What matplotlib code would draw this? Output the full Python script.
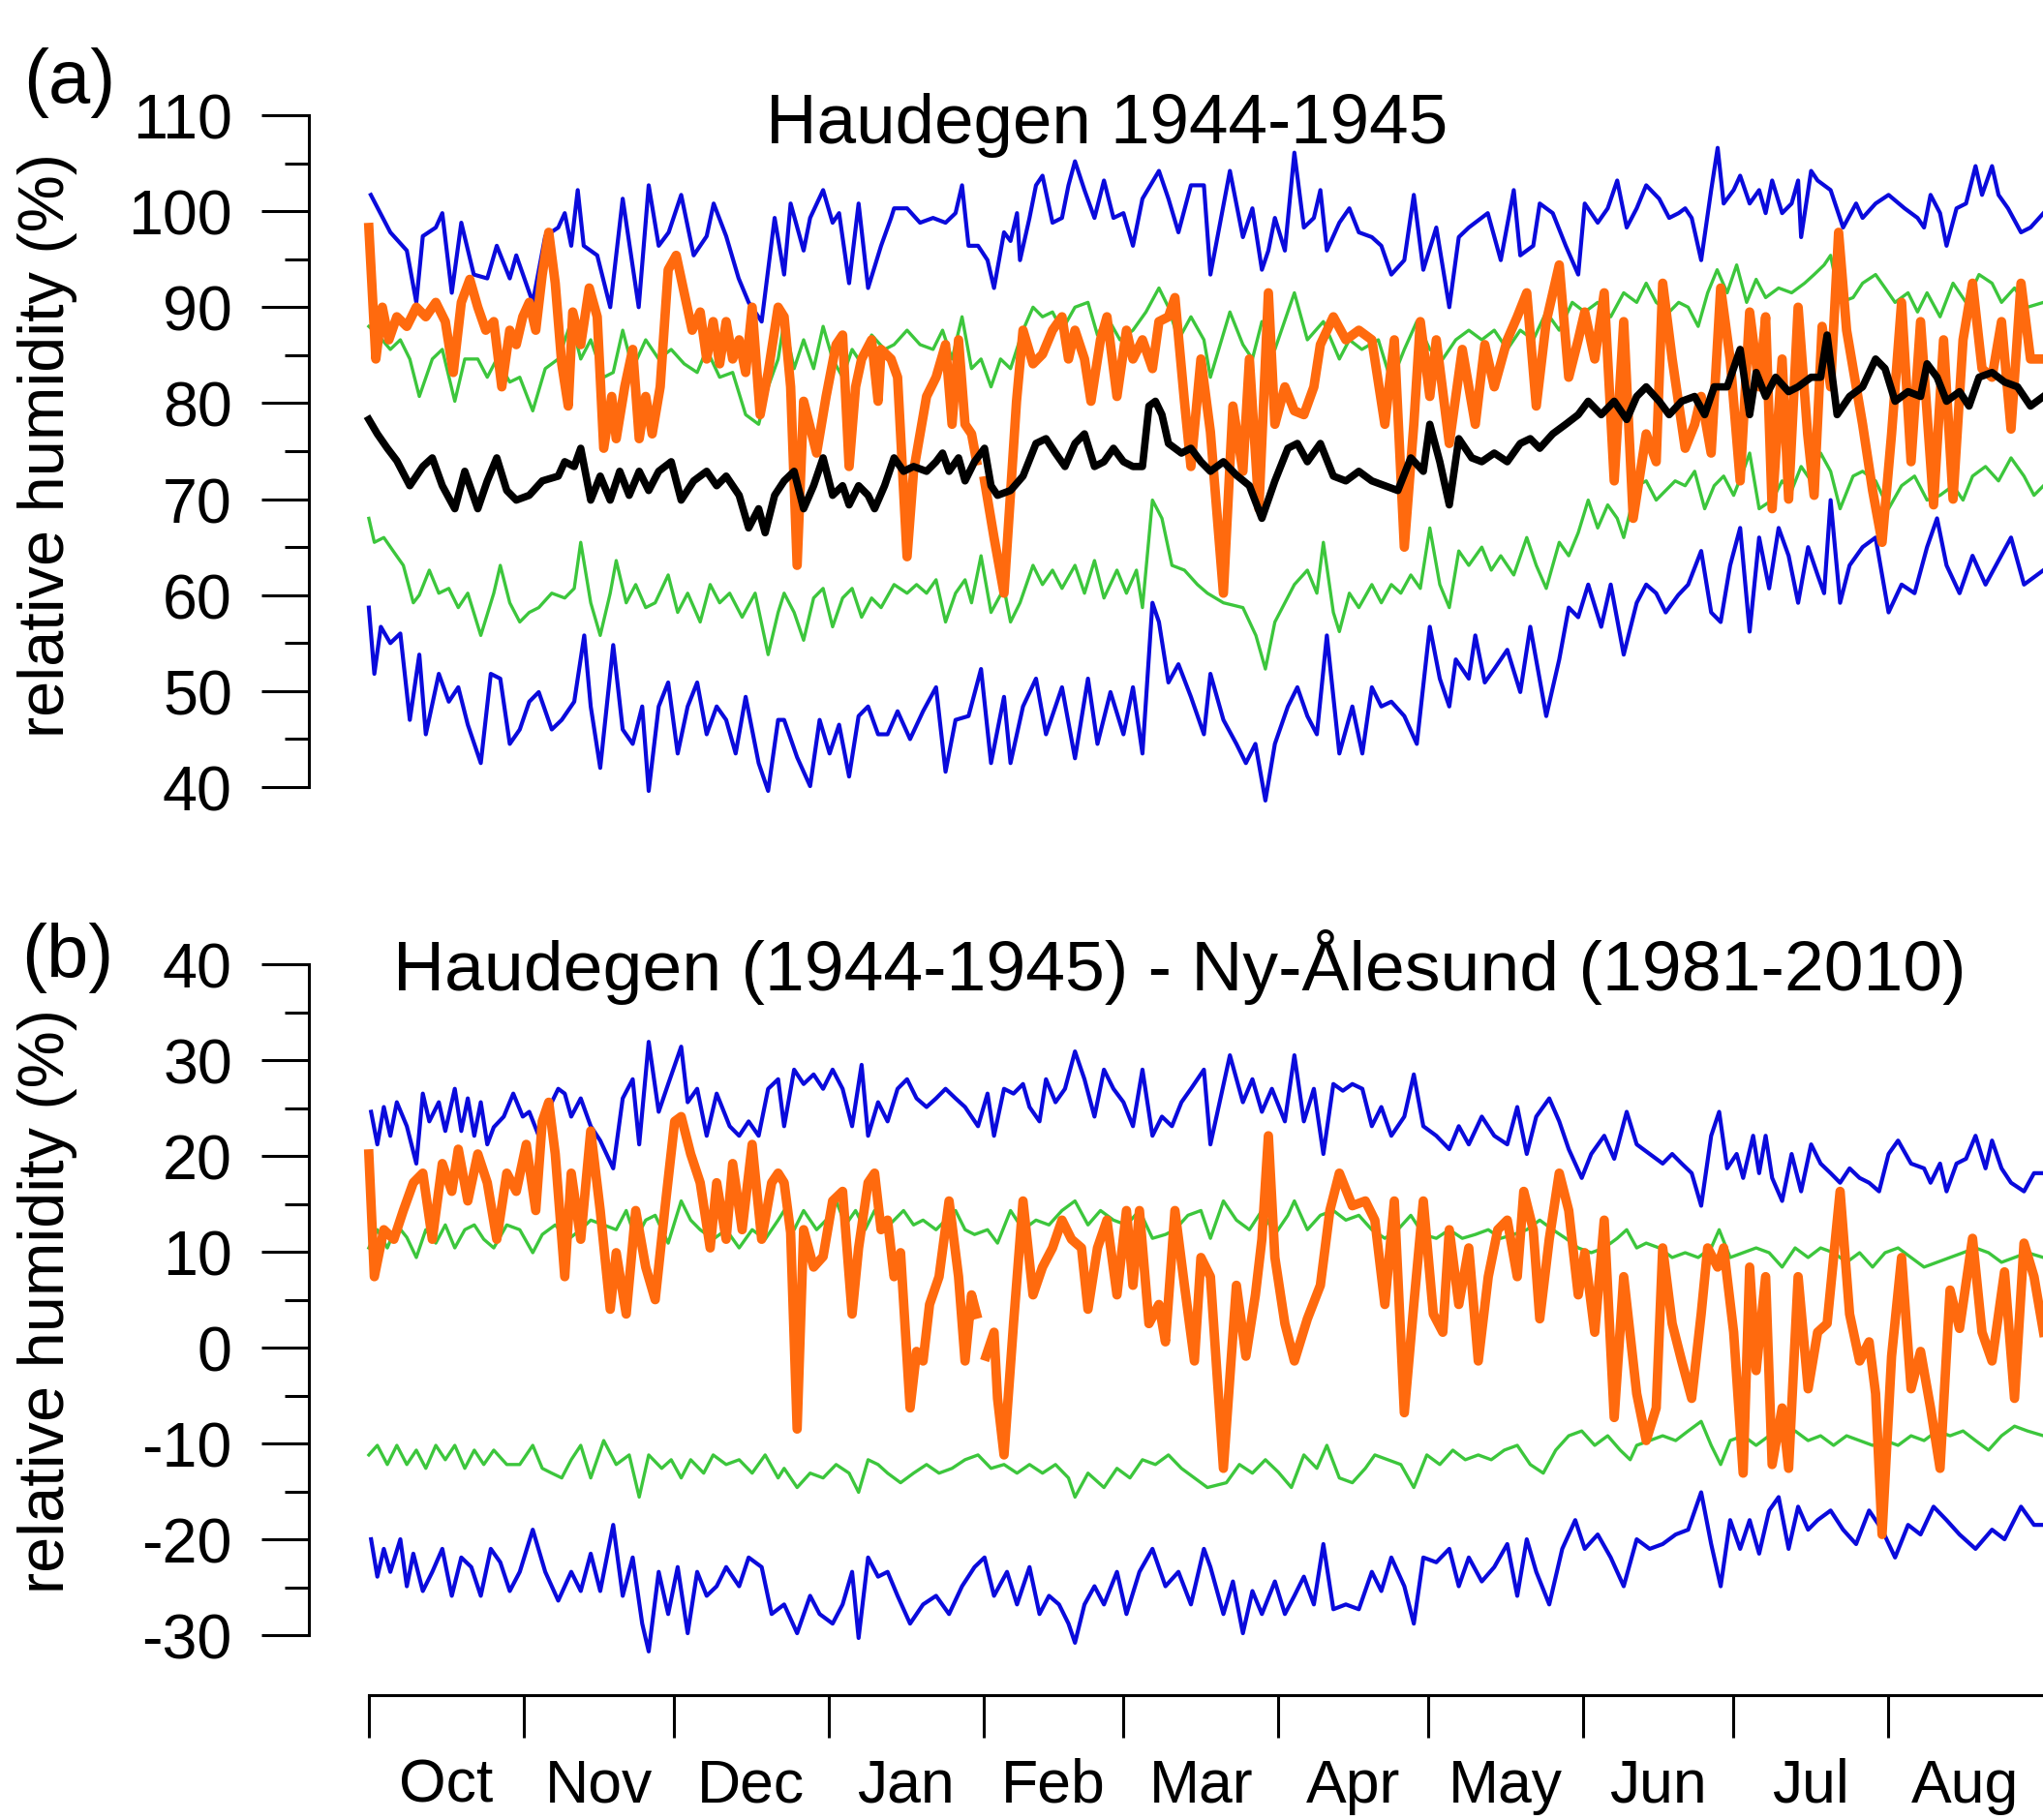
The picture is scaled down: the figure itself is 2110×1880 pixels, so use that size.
import numpy as np
import matplotlib
matplotlib.use('Agg')
import matplotlib.pyplot as plt
from matplotlib.ticker import FixedLocator, NullFormatter

plt.rcParams['font.family'] = ['Liberation Sans', 'DejaVu Sans']
plt.rcParams['axes.unicode_minus'] = False

months = ['Oct', 'Nov', 'Dec', 'Jan', 'Feb', 'Mar', 'Apr', 'May', 'Jun', 'Jul', 'Aug']
month_start = [0, 31, 61, 92, 123, 151, 182, 212, 243, 273, 304, 335]

# each row: (day since 1 Oct 1944, relative humidity %)
a_max = np.array([
    [0.4, 101.7], [4.3, 97.8], [7.6, 95.9], [9.5, 90.5], [10.8, 97.4], [13.4, 98.3], [14.7, 99.8], [16.6, 91.5],
    [18.5, 98.8], [21, 93.4], [23.7, 93], [25.6, 96.4], [28.2, 93], [29.5, 95.4], [32.8, 90.5], [35.3, 97.4],
    [37.9, 98.3], [39.2, 99.8], [40.5, 96.4], [41.8, 102.2], [43, 96.4], [45.7, 95.4], [48.3, 90], [50.8, 101.3],
    [54, 90], [56, 102.7], [58, 96.4], [60, 97.8], [62.5, 101.7], [65, 95.4], [67.6, 97.4], [69, 100.8],
    [71.5, 97.4], [74, 93], [76, 90.5], [78.6, 88.5], [81.2, 99.3], [83.1, 93.4], [84.4, 100.8], [87, 95.9],
    [88.3, 99.3], [90.9, 102.2], [92.8, 98.8], [94.1, 99.8], [96.1, 92.5], [98, 100.8], [99.9, 92], [102.5, 96.4],
    [104.5, 99.3], [105.1, 100.3], [107.7, 100.3], [110.3, 98.8], [112.9, 99.3], [115.4, 98.8], [117.4, 99.8],
    [118.7, 102.7], [120, 96.4], [121.9, 96.4], [123.8, 94.9], [125.1, 92], [127.1, 97.8], [128.4, 96.9],
    [129.7, 99.8], [130.3, 94.9], [132.2, 99.3], [133.5, 102.7], [134.8, 103.7], [136.8, 98.8], [138.7, 99.3],
    [140, 102.7], [141.3, 105.2], [143.2, 102.2], [145.2, 99.3], [147.1, 103.2], [149, 99.3], [151, 99.8],
    [152.9, 96.4], [154.8, 101.3], [158.1, 104.2], [160, 101.3], [162, 97.8], [164.5, 102.7], [167.1, 102.7],
    [168.4, 93.4], [172.3, 104.2], [174.9, 97.3], [176.8, 100.3], [178.7, 93.9], [180, 95.9], [181.3, 99.3],
    [183.3, 95.9], [185.2, 106.1], [187.1, 98.3], [189.1, 99.3], [190.4, 102.2], [191.7, 95.9], [194.2, 98.8],
    [196.2, 100.3], [198.1, 97.8], [200.7, 97.3], [202.6, 96.4], [204.6, 93.4], [207.2, 94.9], [209.1, 101.7],
    [211, 93.9], [213.6, 98.3], [216.2, 90], [218.1, 97.3], [220.1, 98.3], [223.9, 99.8], [226.5, 94.9],
    [229.1, 102.2], [230.4, 95.4], [233, 96.4], [234.3, 100.8], [236.9, 99.8], [239.5, 96.4], [242, 93.4],
    [243.3, 100.8], [245.9, 98.8], [247.9, 100.3], [249.8, 103.2], [251.7, 98.3], [253.7, 100.3], [255.6, 102.7],
    [258.2, 101.3], [260.2, 99.3], [262.1, 99.8], [263.4, 100.3], [264.7, 99.3], [266.6, 94.9], [268.6, 102.2],
    [269.9, 106.6], [271.1, 100.8], [273.1, 102.2], [274.4, 103.7], [276.3, 100.8], [278.2, 102.2], [279.5, 99.8],
    [280.8, 103.2], [282.8, 99.8], [284.7, 100.8], [286, 103.2], [286.6, 97.3], [288.6, 104.2], [289.9, 103.2],
    [292.5, 102.2], [295, 98.3], [297.6, 100.8], [298.9, 99.3], [301.5, 100.8], [304.1, 101.7], [307.3, 100.3],
    [309.9, 99.3], [311.2, 98.3], [312.5, 101.7], [314.4, 99.8], [315.7, 96.4], [317.7, 100.3], [319.6, 100.8],
    [321.5, 104.7], [322.8, 101.7], [324.8, 104.7], [326.1, 101.7], [328, 100.3], [330.6, 97.8], [332.5, 98.3],
    [335.1, 99.8]])

a_p90 = np.array([
    [0, 88], [2, 87], [4.3, 85.6], [6.3, 86.6], [8.2, 84.6], [10.1, 80.7], [12.7, 84.6], [14.7, 85.6], [17.2, 80.2],
    [19.2, 84.6], [21.8, 84.6], [23.7, 82.7], [25.6, 84.6], [28.2, 82.2], [30.2, 82.7], [32.8, 79.2], [35.3, 83.6],
    [37.9, 84.6], [40.5, 88.5], [42.4, 84.6], [44.4, 86.6], [47, 82.7], [48.9, 83.2], [50.8, 87.6], [52.8, 83.6],
    [55.4, 86.6], [58, 84.6], [60.5, 85.6], [63.1, 84.1], [65.7, 83.2], [67.6, 85.6], [70.2, 82.7], [72.8, 83.2],
    [75.4, 78.8], [78, 77.8], [79.9, 81.7], [81.9, 84.6], [83.1, 88.5], [85.1, 83.6], [87, 86.6], [89, 83.6],
    [90.9, 88], [92.8, 84.6], [94.8, 82.7], [96.7, 85.6], [98.6, 84.1], [100.6, 87.1], [103.2, 85.6], [105.1, 86.1],
    [107.7, 87.6], [110.3, 86.1], [112.9, 85.6], [114.8, 87.6], [116.7, 84.6], [118.7, 89], [120.6, 83.6],
    [122.5, 84.6], [124.5, 81.7], [126.4, 84.6], [128.4, 83.6], [130.9, 87.6], [132.9, 90], [134.8, 89],
    [136.8, 89.5], [138.7, 87.6], [141.3, 90], [143.9, 90.5], [145.8, 87.1], [147.7, 89], [150.3, 86.6],
    [152.9, 87.6], [155.5, 89.5], [158.1, 92], [160, 90], [162, 86.6], [164.5, 89], [167.1, 86.6], [168.4, 82.7],
    [172.3, 89.5], [174.9, 86.1], [176.8, 84.6], [178.7, 88.5], [181.3, 85.6], [185.2, 91.5], [187.8, 86.6],
    [191, 88.5], [194.2, 84.6], [196.2, 86.6], [198.7, 85.6], [202, 86.6], [204.6, 82.2], [207.2, 85.6],
    [209.7, 88.5], [212.3, 85.6], [214.9, 84.6], [217.5, 86.6], [220.1, 87.6], [222.7, 86.6], [225.2, 87.6],
    [227.8, 85.6], [230.4, 87.6], [233, 86.6], [235.6, 89.5], [238.2, 87.6], [240.8, 90.5], [243.3, 89.5],
    [245.9, 90.5], [248.5, 89], [251.1, 91.5], [253.7, 90.5], [255.6, 92.5], [257.6, 90.5], [260.2, 89.5],
    [262.1, 90.5], [264, 90], [266, 88], [267.9, 91.5], [269.8, 93.9], [271.8, 91.5], [273.7, 94.4], [275.7, 90.5],
    [277.6, 92.9], [279.5, 91], [282.1, 92], [284.7, 91.5], [287.3, 92.5], [289.2, 93.4], [291.2, 94.4],
    [292.5, 95.4], [294.4, 90.5], [297, 91], [298.9, 92.5], [301.5, 93.4], [303.4, 92], [305.4, 90.5], [308, 91.5],
    [309.9, 89.5], [311.8, 91.5], [314.4, 89], [317, 92.5], [319.6, 90.5], [322.2, 93.4], [324.8, 92.5],
    [326.7, 90.5], [329.3, 92], [331.9, 90], [335.1, 90.5]])

a_obs = np.array([
    [0, 98.3], [1.4, 84.6], [2.7, 90], [4, 86.6], [5.6, 89], [7.6, 88], [9.5, 90], [11.4, 89], [13.4, 90.5],
    [15.3, 88.5], [16.9, 83.2], [18.5, 90.5], [20.2, 92.9], [21.8, 90], [23.4, 87.6], [25, 88.5], [26.6, 81.7],
    [28.2, 87.6], [29.5, 86.1], [30.8, 89], [32.1, 90.5], [33.4, 87.6], [34.7, 93.4], [36, 97.8], [37.3, 92.5],
    [38.6, 84.1], [39.9, 79.7], [40.8, 89.5], [42.4, 86.1], [44.1, 92], [45.7, 89], [47, 75.3], [48.6, 80.7],
    [49.5, 76.3], [51.2, 81.7], [52.8, 85.6], [54.1, 76.3], [55.4, 80.7], [56.7, 76.8], [58.3, 81.7], [59.9, 93.9],
    [61.5, 95.4], [63.1, 91.5], [64.7, 87.6], [66.3, 89.5], [67.6, 84.6], [68.9, 88.5], [70.2, 84.1], [71.5, 88.5],
    [72.8, 84.6], [74.1, 86.6], [75.4, 83.2], [76.7, 90], [78.3, 78.8], [79.9, 83.2], [81.9, 90], [83.1, 89],
    [84.4, 81.7], [85.7, 63.1], [87, 80.2], [89.6, 74.8], [91.5, 80.7], [93.5, 86.1], [94.8, 87.1], [96.1, 73.4],
    [97.4, 81.7], [98.6, 84.6], [100.6, 86.6], [101.9, 80.2], [102.5, 85.6], [104.5, 84.6], [105.8, 82.7],
    [107.7, 64], [109, 72.9], [111.6, 80.7], [113.5, 82.7], [115.4, 86.1], [116.7, 77.8], [118, 86.6],
    [119.3, 77.8], [120.6, 76.8], [121.6, 74], [122.5, np.nan], [123.2, 71.9], [125.1, 66], [127.1, 60.2],
    [129.6, 80.2], [130.9, 87.6], [132.9, 84.1], [134.8, 85.1], [136.8, 87.6], [138.7, 89], [140, 84.6],
    [141.3, 87.6], [143.2, 84.6], [144.5, 80.2], [146.4, 86.6], [147.7, 89], [149.7, 80.7], [151.6, 87.6],
    [152.9, 84.6], [154.8, 86.6], [156.8, 83.6], [158.1, 88.5], [160, 89], [161.3, 91], [163.2, 80.2],
    [164.5, 73.4], [166.5, 84.6], [168.4, 77], [171, 60.2], [172.9, 79.7], [174.9, 72.9], [176.2, 84.6],
    [178.1, 69], [180, 91.5], [181.3, 77.8], [183.3, 81.7], [185.2, 79.2], [187.1, 78.8], [189.1, 81.7],
    [190.4, 86.1], [193, 89], [195.5, 86.6], [198.1, 87.6], [200.7, 86.6], [203.3, 77.8], [205.2, 86.6],
    [207.2, 65], [209.1, 77.8], [210.4, 88.5], [212.3, 80.7], [213.6, 86.6], [216.2, 75.8], [218.8, 85.6],
    [221.4, 77.8], [223.3, 86.1], [225.2, 81.7], [227.8, 86.6], [229.8, 89], [231.7, 91.5], [233.6, 79.7],
    [235.6, 88.5], [238.2, 94.4], [240.1, 82.7], [242, 86.6], [243.3, 89.5], [245.3, 84.6], [247.2, 91.5],
    [249.2, 71.9], [251.1, 88.5], [253, 68], [255.6, 76.8], [257.6, 73.9], [258.9, 92.5], [260.8, 84.6],
    [263.4, 75.3], [265.3, 77.8], [266.6, 80.7], [268.6, 74.8], [270.5, 92], [272.4, 84.6], [274.4, 71.9],
    [276.3, 89.5], [278.2, 81.7], [279.5, 89], [280.8, 69], [282.8, 84.6], [284.1, 70], [286, 90], [287.9, 76.8],
    [289.2, 70.4], [290.8, 88], [292.5, 81.7], [294.1, 97.8], [295.7, 87.6], [297, 83.6], [298.9, 77.8],
    [300.9, 70.9], [302.8, 65.5], [304.7, 76.8], [306.7, 90.5], [308.6, 73.9], [310.5, 88.5], [313.1, 69.4],
    [315.1, 86.6], [317, 70], [319, 86.6], [320.9, 92.5], [322.8, 83.6], [324.8, 82.7], [326.7, 88.5],
    [328.6, 77.3], [330.6, 92.5], [332.5, 84.6], [335.1, 84.6]])

a_mean = np.array([
    [0, 78.3], [1.7, 76.8], [3.7, 75.3], [5.6, 74], [8.2, 71.4], [10.8, 73.4], [12.7, 74.3], [14.7, 71.4],
    [17.2, 69], [19.2, 72.9], [21.8, 69], [23.7, 71.9], [25.6, 74.3], [27.6, 70.9], [29.5, 69.9], [32.1, 70.4],
    [34.7, 71.9], [37.9, 72.4], [39.2, 73.9], [41.1, 73.4], [42.4, 75.3], [44.4, 69.9], [46.3, 72.4], [48.3, 69.9],
    [50.2, 72.9], [52.1, 70.4], [54.1, 72.9], [56, 70.9], [58, 72.9], [60.5, 73.9], [62.5, 69.9], [65, 71.9],
    [67.6, 72.9], [69.6, 71.4], [71.5, 72.4], [74.1, 70.4], [76, 67], [78, 69], [79.3, 66.5], [81.2, 70.4],
    [83.1, 71.9], [85.1, 72.9], [87, 69], [89, 71.4], [90.9, 74.3], [92.8, 70.4], [94.8, 71.4], [96.1, 69.4],
    [98, 71.4], [99.9, 70.4], [101.2, 69], [103.2, 71.4], [105.1, 74.3], [107, 72.9], [109, 73.4], [111.6, 72.9],
    [113.5, 73.9], [114.8, 74.8], [116.1, 72.9], [118, 74.3], [119.3, 71.9], [121.2, 73.9], [123.2, 75.3],
    [124.5, 71.4], [125.8, 70.4], [128.4, 70.9], [130.9, 72.4], [133.5, 75.8], [135.5, 76.3], [137.4, 74.8],
    [139.3, 73.4], [141.3, 75.8], [143.2, 76.8], [145.2, 73.4], [147.1, 73.9], [149, 75.3], [151, 73.9],
    [152.9, 73.4], [154.8, 73.4], [156.1, 79.7], [157.4, 80.2], [158.7, 78.8], [160, 75.8], [162.6, 74.8],
    [164.5, 75.3], [166.5, 73.9], [168.4, 72.9], [171, 73.9], [173.6, 72.5], [176.2, 71.4], [178.7, 68],
    [181.3, 71.9], [183.9, 75.3], [185.8, 75.8], [187.8, 73.9], [190.4, 75.8], [193, 72.4], [195.5, 71.9],
    [198.1, 72.9], [200.7, 71.9], [203.3, 71.4], [205.9, 70.9], [208.5, 74.3], [211, 72.9], [212.3, 77.8],
    [214.3, 73.9], [216.2, 69.4], [218.1, 76.3], [220.7, 74.3], [222.7, 73.9], [225.2, 74.8], [227.8, 73.9],
    [230.4, 75.8], [232.4, 76.3], [234.3, 75.3], [236.9, 76.8], [239.5, 77.8], [242, 78.8], [244, 80.2],
    [246.6, 78.8], [249.2, 80.2], [251.7, 78.3], [253.7, 80.7], [255.6, 81.7], [258.2, 80.2], [260.2, 78.8],
    [262.7, 80.2], [265.3, 80.7], [267.3, 78.8], [269.2, 81.7], [271.8, 81.7], [274.4, 85.6], [276.3, 78.8],
    [277.6, 83.2], [279.5, 80.7], [281.5, 82.7], [284.1, 81.2], [286, 81.7], [288.6, 82.7], [290.5, 82.7],
    [291.8, 87.1], [293.8, 78.8], [296.3, 80.7], [298.9, 81.7], [301.5, 84.6], [303.4, 83.6], [305.4, 80.2],
    [308, 81.2], [310.5, 80.7], [311.8, 84.1], [313.8, 82.7], [315.7, 80.2], [318.3, 81.2], [320.2, 79.7],
    [322.2, 82.7], [324.8, 83.2], [327.3, 82.2], [329.9, 81.7], [332.5, 79.7], [335.1, 80.7]])

a_p10 = np.array([
    [0, 68], [1.1, 65.5], [3, 66], [5, 64.5], [6.9, 63.1], [8.9, 59.2], [10.1, 60], [12.1, 62.6], [14, 60.2],
    [16, 60.7], [17.9, 58.7], [19.8, 60.2], [22.4, 55.8], [25, 60.2], [26.3, 63.1], [28.2, 59.2], [30.2, 57.2],
    [32.1, 58.2], [34, 58.7], [36.6, 60.2], [39.2, 59.7], [41.1, 60.7], [42.4, 65.5], [44.4, 59.2], [46.3, 55.8],
    [48.3, 60.2], [49.5, 63.6], [51.5, 59.2], [53.4, 61.1], [55.4, 58.7], [57.3, 59.2], [59.9, 62.1], [61.8, 58.2],
    [63.8, 60.2], [66.3, 57.2], [68.3, 61.1], [70.2, 59.2], [72.2, 60.2], [74.7, 57.7], [77.3, 60.2], [79.9, 53.8],
    [81.9, 58.2], [83.1, 60.2], [85.1, 58.2], [87, 55.3], [89, 59.7], [90.9, 60.7], [92.8, 56.7], [94.8, 59.7],
    [96.7, 60.7], [98.6, 57.7], [100.6, 59.7], [102.5, 58.7], [105.1, 61.1], [107.7, 60.2], [109.6, 61.1],
    [111.6, 60.2], [113.5, 61.6], [115.4, 57.2], [117.4, 60.2], [119.3, 61.6], [120.6, 59.2], [122.5, 64.1],
    [124.5, 58.2], [127.1, 60.7], [128.4, 57.2], [130.3, 59.2], [132.9, 63.1], [134.8, 61.1], [136.8, 62.6],
    [138.7, 60.7], [141.3, 63.1], [143.2, 60.2], [145.2, 63.6], [147.1, 59.7], [149.7, 62.6], [151.6, 60.2],
    [153.6, 62.6], [154.8, 58.7], [156.8, 69.9], [158.7, 68], [160.7, 63.1], [163.2, 62.6], [165.8, 61.1],
    [167.8, 60.2], [171, 59.2], [174.9, 58.7], [177.5, 55.8], [179.4, 52.3], [181.3, 57.2], [183.3, 59.2],
    [185.2, 61.1], [187.8, 62.6], [189.7, 60.2], [191, 65.5], [193, 58.2], [194.2, 56.2], [196.2, 60.2],
    [198.1, 58.7], [200.7, 61.1], [202.6, 59.2], [204.6, 61.1], [206.5, 60.2], [208.5, 62.1], [210.4, 60.7],
    [212.3, 67], [214.3, 61.1], [216.2, 58.7], [218.1, 64.6], [220.1, 63.1], [222.7, 65], [224.6, 62.6],
    [226.5, 64.1], [229.1, 62.1], [231.7, 66], [233.6, 63.1], [235.6, 60.7], [238.2, 65.5], [240.1, 64.1],
    [242, 66.5], [244, 69.9], [245.9, 67], [247.9, 69.4], [249.8, 68], [251.1, 66], [253.7, 71.4], [255.6, 71.9],
    [257.6, 69.9], [259.5, 70.9], [261.4, 71.9], [263.4, 71.4], [265.3, 72.9], [267.3, 69], [269.2, 71.4],
    [271.1, 72.4], [273.1, 70.4], [275, 72.9], [276.3, 74.8], [278.2, 69], [280.8, 69.9], [282.8, 71.9],
    [284.7, 70.9], [286.6, 73.4], [288.6, 71.9], [290.5, 74.8], [292.5, 72.9], [294.4, 69], [297, 72.4],
    [298.9, 72.9], [301.5, 71.9], [304.1, 69], [306.7, 71.4], [309.3, 72.4], [311.8, 69.9], [314.4, 70.4],
    [317, 71.4], [319, 69.9], [320.9, 72.4], [323.5, 73.4], [326.1, 71.9], [328.6, 74.3], [331.2, 72.4],
    [333.2, 70.4], [335.1, 71.4]])

a_min = np.array([
    [0, 58.7], [1.1, 51.8], [2.4, 56.7], [4.3, 55], [6.3, 56], [8.2, 47], [10.1, 53.8], [11.4, 45.5], [14, 51.8],
    [16, 48.9], [17.9, 50.4], [19.8, 46.5], [22.4, 42.5], [24.4, 51.8], [26.3, 51.3], [28.2, 44.5], [30.2, 46],
    [32.1, 48.9], [34, 49.9], [36.6, 46], [38.6, 47], [41.1, 48.9], [43.1, 55.8], [44.4, 48.4], [46.3, 42],
    [48.9, 54.8], [50.8, 46], [52.8, 44.5], [54.7, 48.4], [56, 39.6], [58, 48.4], [59.9, 50.9], [61.8, 43.5],
    [63.8, 48.4], [65.7, 50.9], [67.6, 45.5], [69.6, 48.4], [71.5, 47], [73.4, 43.5], [75.4, 49.4], [78, 42.5],
    [79.9, 39.6], [81.9, 47], [83.1, 47], [85.7, 43.1], [88.3, 40.1], [90.2, 47], [92.2, 43.5], [94.1, 46.5],
    [96.1, 41.1], [98, 47.4], [99.9, 48.4], [101.9, 45.5], [103.8, 45.5], [105.8, 47.9], [108.3, 45],
    [110.9, 47.9], [113.5, 50.4], [115.4, 41.6], [117.4, 47], [120, 47.4], [122.5, 52.3], [124.5, 42.5],
    [127.1, 49.4], [128.4, 42.5], [130.9, 48.4], [133.5, 51.3], [135.5, 45.5], [137.4, 48.4], [138.7, 50.4],
    [141.3, 43], [143.9, 51.3], [145.8, 44.5], [148.4, 49.9], [151, 45.5], [152.9, 50.4], [154.8, 43.5],
    [156.8, 59.2], [158.1, 57.2], [160, 50.9], [162, 52.8], [164.5, 49.4], [167.1, 45.5], [168.4, 51.8],
    [171, 47], [173.6, 44.5], [175.5, 42.5], [177.4, 44.5], [179.4, 38.6], [181.3, 44.5], [183.9, 48.4],
    [185.8, 50.4], [187.8, 47.4], [189.7, 45.5], [191.7, 55.8], [194.2, 43.5], [196.8, 48.4], [198.8, 43.5],
    [200.7, 50.4], [202.6, 48.4], [204.6, 48.9], [207.2, 47.4], [209.7, 44.5], [212.3, 56.7], [214.3, 51.3],
    [216.2, 48.4], [217.5, 53.3], [220.1, 51.3], [221.4, 55.8], [223.3, 50.9], [225.2, 52.3], [227.8, 54.3],
    [230.4, 49.9], [232.4, 56.7], [235.6, 47.4], [238.2, 53.3], [240.1, 58.7], [242, 57.7], [244, 61.1],
    [246.6, 56.7], [248.5, 61.1], [251.1, 53.8], [253.7, 59.2], [255.6, 61.1], [257.6, 60.2], [259.5, 58.2],
    [262, 60], [264, 61.1], [266.6, 64.6], [268.6, 58.2], [270.5, 57.2], [272.4, 63.1], [274.4, 67],
    [276.3, 56.2], [278.2, 66], [280.2, 60.7], [282.1, 67], [284.1, 64.1], [286, 59.2], [288, 65], [289.9, 62.1],
    [291.2, 60.2], [292.5, 69.9], [294.4, 59.2], [296.3, 63.1], [298.9, 65], [301.5, 66], [304.1, 58.2],
    [306.7, 61.1], [309.3, 60.2], [311.8, 65], [313.8, 68], [315.7, 63.1], [318.3, 60.2], [320.9, 64.1],
    [323.5, 61.1], [326.1, 63.6], [328.6, 66], [331.2, 61.1], [333.8, 62.1], [335.1, 62.6]])

# panel (b): Haudegen minus Ny-Alesund climatology
b_max = np.array([
    [0.45, 24.6], [1.7, 21.2], [3, 25.1], [4.3, 22.1], [5.6, 25.6], [7.6, 23.1], [9.5, 19.2], [10.8, 26.5],
    [12.1, 23.6], [14, 25.6], [15.3, 22.6], [17.2, 27], [18.5, 22.6], [19.8, 26], [21.1, 22.1], [22.4, 25.6],
    [23.7, 21.2], [25, 23], [27, 24.1], [28.9, 26.5], [30.8, 24.1], [32.1, 24.6], [34, 22.1], [36.6, 25.6],
    [37.9, 27], [39.2, 26.5], [40.5, 24.1], [42.4, 26], [44.4, 23.1], [46.3, 21.6], [48.9, 18.7], [50.8, 26],
    [52.8, 28], [54.1, 21.2], [56, 31.9], [58, 24.6], [59.9, 27.5], [62.5, 31.4], [63.8, 25.6], [65.7, 27],
    [67.6, 22.1], [69.6, 26.5], [72.2, 23.1], [74.1, 22.1], [76, 23.6], [78, 22.1], [79.9, 27], [81.9, 28],
    [83.1, 23.1], [85.1, 29], [87, 27.5], [89, 28.5], [90.9, 27], [92.8, 29], [94.8, 27], [96.7, 23.1],
    [98.6, 29.5], [99.9, 22.1], [101.9, 25.6], [103.8, 23.6], [105.8, 27], [107.7, 28], [109.6, 26],
    [111.6, 25.1], [113.5, 26], [115.4, 27], [117.4, 26], [119.3, 25.1], [121.9, 23.1], [123.8, 26.5],
    [125.1, 22.1], [127.1, 27], [129, 26.5], [130.9, 27.5], [132.2, 25.1], [134.2, 23.6], [135.5, 28],
    [137.4, 25.6], [139.3, 27], [141.3, 30.9], [143.2, 28], [145.2, 24.1], [147.1, 29], [149, 27], [151, 25.6],
    [152.9, 23.1], [154.8, 29], [156.8, 22.1], [158.7, 24.1], [160.7, 23.1], [162.6, 25.6], [164.5, 27],
    [167.1, 29], [168.4, 21.2], [172.3, 30.5], [174.9, 25.6], [176.8, 28], [178.7, 24.6], [180.7, 27],
    [183.3, 23.6], [185.2, 30.5], [187.1, 23.6], [189.1, 27], [191, 20.2], [193, 27.5], [194.9, 26.8],
    [196.8, 27.5], [198.8, 27], [200.7, 23.1], [202.6, 25.1], [204.6, 22.1], [207.2, 24.1], [209.1, 28.5],
    [211, 23.1], [213.6, 22.1], [216.2, 20.7], [218.1, 23.1], [220.1, 21.2], [222.7, 24.1], [225.2, 22.1],
    [227.8, 21.2], [229.8, 25.1], [231.7, 20.2], [233.6, 24.1], [236.2, 26], [238.2, 23.6], [240.1, 20.7],
    [242.7, 17.7], [244.6, 20.2], [247.2, 22.1], [249.2, 19.7], [251.7, 24.6], [253.7, 21.2], [256.3, 20.2],
    [258.9, 19.2], [260.8, 20.2], [262.7, 19.2], [264.7, 18.2], [266.6, 14.8], [268.6, 22.1], [270.2, 24.6],
    [271.8, 18.7], [273.7, 20.2], [275, 17.7], [277, 22.1], [278.2, 18.2], [279.5, 22.1], [280.8, 17.7],
    [282.8, 15.3], [284.7, 20.2], [286.6, 16.3], [288.6, 21.2], [290.5, 19.2], [292.5, 18.2], [294.4, 17.2],
    [296.3, 18.7], [298.3, 17.7], [300.2, 17.2], [302.2, 16.3], [304.1, 20.2], [306, 21.6], [308.6, 19.2],
    [311.2, 18.7], [312.5, 17.2], [314.4, 19.2], [315.7, 16.3], [317.7, 19.2], [319.6, 19.7], [321.5, 22.1],
    [323.5, 18.7], [324.8, 21.6], [326.7, 18.7], [328.6, 17.2], [331.2, 16.3], [333.2, 18.2], [335.1, 18.2]])

b_p90 = np.array([
    [0, 10.4], [1.7, 12.3], [3.7, 10.4], [5.6, 12.8], [7.6, 11.5], [9.5, 9.4], [11.4, 12.3], [13.4, 10.9],
    [15.3, 12.8], [17.2, 10.4], [19.2, 12.3], [21.1, 12.8], [23, 11.3], [25, 10.4], [27.6, 12.8], [30.2, 12.3],
    [32.8, 9.9], [34.7, 11.8], [37.3, 12.8], [39.9, 11.3], [42.4, 12.3], [44.4, 13.3], [47, 12.8], [49.5, 12.3],
    [51.5, 14.3], [53.4, 11.3], [55.4, 13.3], [57.3, 13.8], [59.9, 10.9], [62.5, 15.3], [64.4, 13.3], [66.3, 12.3],
    [68.9, 11.3], [71.5, 12.3], [74.1, 10.4], [76.7, 12.3], [79.3, 11.3], [81.9, 13.3], [83.1, 14.3], [85.1, 12.3],
    [87, 14.3], [89.6, 12.3], [91.5, 13.3], [93.5, 15.3], [95.4, 12.8], [97.4, 14.3], [99.3, 12.3], [101.2, 14.3],
    [103.2, 12.3], [105.1, 13.3], [107, 14.3], [109, 12.8], [110.9, 13.3], [113.5, 12.3], [115.4, 13.3],
    [117.4, 14.3], [119.3, 12.3], [121.2, 11.8], [123.8, 12.3], [125.8, 10.9], [128.4, 14.3], [130.9, 12.3],
    [133.5, 13.3], [136.1, 12.8], [138.7, 14.3], [141.3, 15.3], [143.9, 12.8], [146.4, 14.3], [149, 13.3],
    [151.6, 12.8], [154.2, 14.3], [156.8, 11.4], [159.4, 11.8], [161.3, 12.3], [163.9, 13.8], [166.5, 14.3],
    [168.4, 11.4], [171, 15.3], [173.6, 13.3], [176.2, 12.3], [178.7, 14.3], [181.3, 11.8], [183.9, 13.8],
    [185.2, 15.3], [187.8, 12.3], [190.4, 13.8], [193, 14.3], [195.5, 13.3], [198.1, 13.8], [200.7, 12.3],
    [203.3, 11.4], [205.9, 12.3], [208.5, 13.8], [211, 11.8], [213.6, 11.4], [216.2, 12.3], [218.8, 11.4],
    [221.4, 11.8], [224, 12.3], [226.5, 11.4], [229.1, 11.8], [231.7, 12.3], [234.3, 13.3], [236.9, 12.3],
    [239.5, 11.4], [242, 10.4], [244.6, 9.9], [247.2, 10.4], [249.8, 11.4], [251.7, 12.3], [253.7, 10.4],
    [255.6, 10.9], [258.2, 10.4], [260.8, 9.4], [263.4, 9.9], [266, 9.4], [268.6, 10.4], [270.2, 12.3],
    [272.4, 9.4], [275, 9.9], [277.6, 10.4], [280.2, 9.9], [282.8, 8.4], [285.4, 10.4], [288, 9.4], [290.5, 10.4],
    [293.1, 9.9], [295.7, 8.9], [298.3, 9.9], [300.9, 8.4], [303.4, 9.9], [306, 10.4], [308.6, 9.4], [311.2, 8.4],
    [313.8, 8.9], [316.4, 9.4], [319, 9.9], [321.5, 10.4], [324.1, 9.9], [326.7, 8.9], [329.3, 9.4],
    [331.9, 9.9], [335.1, 9.4]])

b_obs = np.array([
    [0, 20.2], [1.1, 7.4], [3, 12.3], [5, 11.3], [6.9, 14.3], [8.9, 17.2], [10.8, 18.2], [12.7, 11.3],
    [14.7, 19.2], [16.6, 16.3], [17.9, 20.7], [19.8, 15.3], [21.8, 20.2], [23.7, 17.2], [25.6, 11.3],
    [27.6, 18.2], [29.5, 16.3], [31.5, 21.2], [33.4, 14.3], [34.7, 23.6], [36, 25.6], [37.3, 20.2], [39.2, 7.4],
    [40.5, 18.2], [42.4, 11.3], [44.4, 22.6], [46.3, 14.3], [48.3, 4], [49.5, 9.9], [51.5, 3.5], [53.4, 14.3],
    [55.4, 8.4], [57.3, 5], [59.2, 14.3], [61.2, 23.6], [62.5, 24.1], [64.4, 20.2], [66.3, 17.2], [68.3, 10.4],
    [69.6, 17.2], [71.5, 11.3], [72.8, 19.2], [74.7, 12.3], [76.7, 21.2], [78.6, 11.3], [80.6, 17.2],
    [81.9, 18.2], [83.1, 17.2], [84.4, 12], [85.7, -8.5], [87, 12.3], [89, 8.4], [90.9, 9.5], [92.8, 15.3],
    [94.8, 16.3], [96.7, 3.5], [98, 10.4], [99.9, 17.2], [101.2, 18.2], [102.5, 12.3], [103.8, 13.3],
    [105.1, 7.4], [106.4, 9.9], [108.3, -6.3], [109.6, -0.4], [110.9, -1.4], [112.2, 4.5], [114.1, 7.4],
    [116.1, 15.3], [118, 7.4], [119.3, -1.4], [120.6, 5.5], [121.6, 3.5], [122.5, np.nan], [123.5, -0.9],
    [125.1, 1.6], [125.8, -5.3], [127.1, -11.2], [129, 2.5], [130.9, 15.3], [132.9, 5.5], [134.8, 8.4],
    [136.8, 10.4], [138.7, 13.3], [140.6, 11.3], [142.6, 10.4], [143.9, 4], [145.8, 10.4], [147.7, 13.3],
    [149.7, 5.5], [151.6, 14.3], [152.9, 6.5], [154.2, 14.3], [156.1, 2.5], [158.1, 4.5], [159.4, 0.6],
    [161.3, 14.3], [163.2, 6.5], [165.2, -1.4], [166.5, 9.4], [168.4, 7.4], [171, -12.6], [173.6, 6.5],
    [175.5, -0.9], [177.4, 5.5], [178.7, 11.3], [180, 22.1], [181.3, 9.4], [183.3, 2.5], [185.2, -1.4],
    [187.8, 3], [190.4, 6.5], [192.3, 14.3], [194.2, 18.2], [196.8, 14.8], [199.4, 15.3], [201.3, 13.3],
    [203.3, 4.5], [205.2, 15.3], [207.2, -6.8], [209.1, 4.5], [211, 15.3], [213, 3.5], [214.9, 1.6],
    [216.2, 12.3], [218.1, 4.5], [220.1, 10.4], [222, -1.4], [224, 7.4], [225.9, 12.3], [227.8, 13.3],
    [229.8, 7.4], [231.1, 16.3], [233, 12.3], [234.3, 3], [236.2, 11.3], [238.2, 18.2], [240.1, 14.3],
    [242, 5.5], [243.3, 9.9], [245.3, 1.6], [247.2, 13.3], [249.2, -7.3], [251.1, 7.4], [253.7, -4.8],
    [255.6, -9.7], [257.6, -6.3], [258.9, 10.4], [260.8, 2.5], [262.7, -1.4], [264.7, -5.3], [266.6, 3.5],
    [267.9, 10.4], [269.9, 8.4], [271.1, 10.4], [273.1, 1.6], [275, -13.1], [276.3, 8.4], [277.6, -2.4],
    [279.5, 7.4], [280.8, -12.2], [282.8, -6.3], [284.1, -12.6], [286, 7.4], [288, -4.3], [289.9, 1.6],
    [291.8, 2.5], [294.4, 16.3], [296.3, 3.5], [298.3, -1.4], [300.2, 0.6], [301.5, -4.8], [302.8, -19.5],
    [304.7, -0.9], [306.7, 9.4], [308.6, -4.3], [310.5, -0.4], [312.5, -6.3], [314.4, -12.6], [316.4, 6],
    [318.3, 2], [320.9, 11.4], [322.8, 1.6], [324.8, -1.4], [327.3, 7.9], [329.3, -5.3], [331.2, 10.9],
    [333.2, 7.4], [335.1, 1.6]])

b_p10 = np.array([
    [0, -11.2], [1.7, -10.2], [3.7, -12.2], [5.6, -10.2], [7.6, -12.2], [9.5, -10.7], [11.4, -12.6],
    [13.4, -10.2], [15.3, -11.7], [17.2, -10.2], [19.2, -12.6], [21.1, -10.7], [23, -12.2], [25, -10.7],
    [27.6, -12.2], [30.2, -12.2], [32.8, -10.2], [34.7, -12.6], [36.6, -13.1], [38.6, -13.6], [40.5, -11.7],
    [42.4, -10.2], [44.4, -13.6], [47, -9.7], [49.5, -12.2], [52.1, -11.2], [54.1, -15.6], [56, -11.2],
    [58.6, -12.6], [60.5, -11.7], [62.5, -13.6], [64.4, -11.7], [67, -13.1], [68.9, -11.2], [71.5, -12.2],
    [74.1, -11.7], [76.7, -13.1], [79.3, -11.2], [81.9, -13.6], [83.1, -12.6], [85.7, -14.6], [88.3, -13.1],
    [90.9, -13.6], [93.5, -12.2], [96.1, -13.1], [98, -15.1], [99.9, -11.7], [101.9, -12.2], [103.8, -13.1],
    [106.4, -14.1], [109, -13.1], [111.6, -12.2], [114.1, -13.1], [116.7, -12.6], [119.3, -11.7], [121.9, -11.2],
    [124.5, -12.6], [127.1, -12.2], [129.7, -13.1], [132.2, -12.2], [134.8, -13.1], [137.4, -12.2], [140, -13.6],
    [141.3, -15.6], [143.9, -13.1], [147.1, -14.6], [149.7, -12.6], [152.3, -13.6], [154.8, -11.7],
    [157.4, -12.2], [160, -11.2], [162.6, -12.6], [165.2, -13.6], [167.8, -14.6], [171.6, -14.1], [174.2, -12.2],
    [176.8, -13.1], [179.4, -11.7], [182, -13], [184.6, -14.6], [187.1, -11.2], [189.7, -12.6], [191.7, -10.2],
    [194.2, -13.6], [196.8, -14.1], [199.4, -12.6], [201.3, -11.2], [203.9, -11.7], [206.5, -12.2],
    [209.1, -14.6], [211.7, -11.2], [214.3, -12.2], [216.9, -10.7], [219.4, -11.7], [222, -11.2], [224.6, -11.7],
    [227.2, -10.7], [229.8, -10.2], [232.4, -12.2], [235, -13.1], [237.5, -10.7], [240.1, -9.2], [242.7, -8.7],
    [245.3, -10.2], [247.9, -9.2], [250.4, -10.7], [252.4, -11.7], [253.7, -10.2], [256.3, -9.7], [258.9, -9.2],
    [261.5, -9.7], [264, -8.7], [266.6, -7.7], [268.6, -10.2], [270.5, -12.2], [272.4, -9.7], [275, -9.2],
    [277.6, -10.2], [280.2, -9.2], [282.8, -9.7], [285.4, -8.7], [288, -9.7], [290.5, -9.2], [293.1, -10.2],
    [295.7, -9.2], [298.3, -9.7], [300.9, -10.2], [303.4, -9.7], [306, -10.2], [308.6, -9.2], [311.2, -9.7],
    [313.8, -8.7], [316.4, -9.2], [319, -8.7], [321.5, -9.7], [324.1, -10.7], [326.7, -9.2], [329.3, -8.2],
    [331.9, -8.7], [335.1, -9.2]])

b_min = np.array([
    [0.45, -20], [1.7, -23.9], [3, -21], [4.3, -23.4], [6.3, -20], [7.6, -24.9], [8.9, -21.5], [10.8, -25.4],
    [12.7, -23.4], [14.7, -21], [16.6, -25.9], [18.5, -21.9], [20.5, -22.9], [22.4, -25.9], [24.4, -21],
    [26.3, -22.4], [28.2, -25.4], [30.2, -23.4], [32.8, -19], [35.3, -23.4], [37.9, -26.4], [40.5, -23.4],
    [42.4, -25.4], [44.4, -21.5], [46.3, -25.4], [48.9, -18.5], [50.8, -25.9], [52.8, -21.9], [54.7, -28.8],
    [56, -31.7], [58, -23.4], [59.9, -27.8], [61.8, -22.9], [63.8, -29.8], [65.7, -23.4], [67.6, -25.9],
    [69.6, -24.9], [71.5, -22.9], [74.1, -24.9], [76, -21.9], [78.6, -22.9], [80.6, -27.8], [83.1, -26.8],
    [85.7, -29.8], [88.3, -25.9], [90.2, -27.8], [92.8, -28.8], [94.8, -26.8], [96.7, -23.4], [98, -30.3],
    [99.9, -21.9], [101.9, -23.9], [103.8, -23.4], [105.8, -25.9], [108.3, -28.8], [110.9, -26.8],
    [113.5, -25.9], [116.1, -27.8], [118.7, -24.9], [121.2, -22.9], [123.2, -21.9], [125.1, -25.9],
    [127.7, -23.4], [129.7, -26.8], [132.2, -22.9], [134.2, -27.8], [136.1, -25.9], [138.1, -26.8], [140, -28.8],
    [141.3, -30.8], [143.2, -26.8], [145.2, -24.9], [147.1, -26.8], [149.7, -23.4], [151.6, -27.8],
    [154.2, -23.4], [156.8, -21], [159.4, -24.9], [162, -23.4], [164.5, -26.8], [167.1, -21], [168.4, -22.9],
    [171, -27.8], [172.9, -24.4], [174.9, -29.8], [176.8, -25.4], [178.7, -27.8], [181.3, -24.4], [183.3, -27.8],
    [185.2, -25.9], [187.1, -23.9], [189.1, -26.8], [191, -20.5], [193, -27.3], [195.5, -26.8], [198.1, -27.3],
    [200.7, -23.4], [202.6, -25.4], [204.6, -21.9], [207.2, -24.9], [209.1, -28.8], [211, -21.9], [213.6, -22.4],
    [216.2, -21], [218.1, -24.9], [220.1, -21.9], [222.7, -24.4], [225.2, -22.9], [227.8, -20.5], [229.8, -25.9],
    [231.7, -20], [233.6, -23.4], [236.2, -26.8], [238.8, -21], [241.4, -18], [243.3, -21], [245.9, -19.5],
    [248.5, -21.9], [251.1, -24.9], [253.7, -20], [256.3, -21], [258.9, -20.5], [261.5, -19.5], [264, -19],
    [266.6, -15.1], [268.6, -20.5], [270.5, -24.9], [272.4, -18], [274.4, -21], [276.3, -18], [278.2, -21.5],
    [280.2, -17], [282.1, -15.6], [284.1, -21], [286, -16.6], [288, -19], [289.9, -18], [292.5, -17], [295, -19],
    [297.6, -20.5], [300.2, -17], [302.8, -19], [305.4, -21.9], [308, -18.5], [310.5, -19.5], [313.1, -16.6],
    [315.7, -18], [318.3, -19.5], [321.5, -21], [324.8, -19], [327.3, -20], [330.6, -16.6], [333.2, -18.5],
    [335.1, -18.5]])

BLUE = '#0a0adc'
GREEN = '#3cc63c'
ORANGE = '#ff6a0e'

W, H = 2110, 1881
fig = plt.figure(figsize=(W / 100, H / 100), dpi=100)


def add_px_axes(x0, y_top, x1, y_bot):
    return fig.add_axes([x0 / W, 1 - y_bot / H, (x1 - x0) / W, (y_bot - y_top) / H])


def style_y(ax, lo, hi):
    for s in ['top', 'right', 'bottom']:
        ax.spines[s].set_visible(False)
    ax.spines['left'].set_bounds(lo, hi)
    ax.spines['left'].set_linewidth(2.2)
    ax.yaxis.set_major_locator(FixedLocator(np.arange(lo, hi + 1, 10)))
    ax.yaxis.set_minor_locator(FixedLocator(np.arange(lo + 5, hi, 10)))
    ax.tick_params(axis='y', which='major', direction='out', length=35, width=2.2,
                   labelsize=46.5, pad=22)
    ax.tick_params(axis='y', which='minor', direction='out', length=18, width=2.2)
    ax.set_xlim(-12.0, 335)


def draw(ax, series, color, lw, z):
    ax.plot(series[:, 0], series[:, 1], color=color, lw=lw, zorder=z, solid_joinstyle='round')


# panel (a)
ax1 = add_px_axes(319, 100.2, W, 863.6)
ax1.set_ylim(35, 112)
style_y(ax1, 40, 110)
ax1.set_xticks([])
for s, c, lw, z in [(a_max, BLUE, 3.0, 2), (a_min, BLUE, 3.0, 2), (a_p90, GREEN, 2.4, 3),
                    (a_p10, GREEN, 2.4, 3), (a_obs, ORANGE, 7.0, 4), (a_mean, 'black', 5.5, 5)]:
    draw(ax1, s, c, lw, z)

# panel (b)
ax2 = add_px_axes(319, 972.25, W, 1752)
ax2.set_ylim(-36.26, 42.5)
style_y(ax2, -30, 40)
ax2.spines['bottom'].set_visible(True)
ax2.spines['bottom'].set_bounds(0, 335)
ax2.spines['bottom'].set_linewidth(2.2)
ax2.xaxis.set_major_locator(FixedLocator(month_start[:-1]))
ax2.xaxis.set_major_formatter(NullFormatter())
mids = [(month_start[i] + month_start[i + 1]) / 2 for i in range(len(months))]
ax2.xaxis.set_minor_locator(FixedLocator(mids))
ax2.set_xticklabels(months, minor=True)
ax2.tick_params(axis='x', which='major', direction='out', length=32, width=2.2)
ax2.tick_params(axis='x', which='minor', length=0, labelsize=45, pad=46)
for s, c, lw, z in [(b_max, BLUE, 3.0, 2), (b_min, BLUE, 3.0, 2), (b_p90, GREEN, 2.4, 3),
                    (b_p10, GREEN, 2.4, 3), (b_obs, ORANGE, 7.0, 4)]:
    draw(ax2, s, c, lw, z)

# texts
fig.text(1143 / W, 1 - 148 / H, 'Haudegen 1944-1945', ha='center', va='baseline', fontsize=52.5)
fig.text(406 / W, 1 - 1023 / H, 'Haudegen (1944-1945) - Ny-Ålesund (1981-2010)',
         ha='left', va='baseline', fontsize=52.8)
fig.text(72 / W, 1 - 85 / H, '(a)', ha='center', va='center', fontsize=56)
fig.text(70 / W, 1 - 990 / H, '(b)', ha='center', va='center', fontsize=56)
fig.text(49 / W, 1 - 460 / H, 'relative humidity (%)', rotation=90, ha='center', va='center', fontsize=48)
fig.text(49 / W, 1 - 1344 / H, 'relative humidity (%)', rotation=90, ha='center', va='center', fontsize=48)

fig.savefig('out.png', dpi=100)
